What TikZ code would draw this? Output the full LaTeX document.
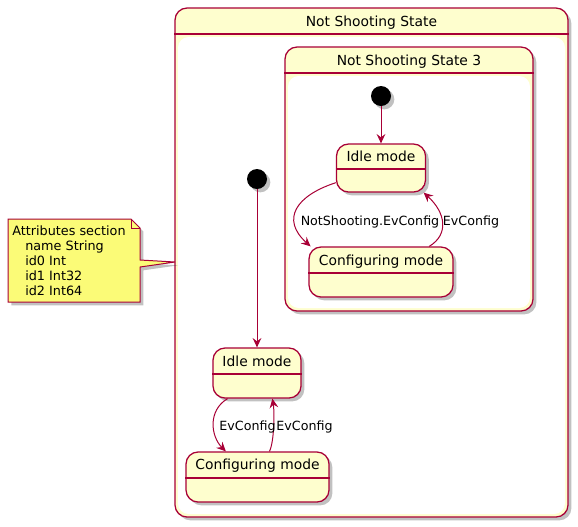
\documentclass[tikz,border=0pt]{standalone}
\usepackage{fontspec}
\setmainfont{DejaVu Sans}
\usetikzlibrary{arrows.meta,shadows,calc}
\definecolor{plborder}{HTML}{A80036}
\definecolor{plfill}{HTML}{FEFECE}
\definecolor{plnote}{HTML}{FBFB77}
\begin{document}
\begin{tikzpicture}[x=0.75pt,y=-0.75pt,
  shad/.style={drop shadow={shadow xshift=2.5pt,shadow yshift=-2.5pt,opacity=0.3,fill=black!80}},
  statebox/.style={draw=plborder,line width=0.95pt,fill=plfill,rounded corners=9pt,shad,inner sep=0pt},
  innerwhite/.style={fill=white,rounded corners=8pt},
  divider/.style={draw=plborder,line width=0.95pt},
  titletext/.style={font=\fontsize{10.4}{12}\selectfont,inner sep=0pt,anchor=base},
  lbl/.style={font=\fontsize{9.5}{11}\selectfont,inner sep=0pt,anchor=base},
  notetext/.style={font=\fontsize{9.6}{11.25}\selectfont,inner sep=0pt,align=left},
  initdot/.style={circle,fill=black,minimum size=15pt,inner sep=0pt,shad},
  trans/.style={draw=plborder,line width=0.75pt,-{Stealth[length=7pt,width=6.5pt,inset=2.5pt]}}
]
\useasboundingbox (0,0) rectangle (578,526);
% outer composite
\node[statebox,minimum width=294.75pt,minimum height=381.75pt] (outer) at (371.5,262.5) {};
\path[innerwhite] (178,37) rectangle (565,514);
\draw[divider] (outer.west |- 0,34) -- (outer.east |- 0,34);
\node[titletext] (outert) at (371.5,26) {Not Shooting State};
% inner composite
\node[statebox,minimum width=186pt,minimum height=198pt] (inner) at (409,179) {};
\path[innerwhite] (288,76) rectangle (530,308);
\draw[divider] (inner.west |- 0,73) -- (inner.east |- 0,73);
\node[titletext] (innert) at (409,65) {Not Shooting State 3};
% inner states
\node[initdot] (init3) at (381,96) {};
\node[statebox,minimum width=66.75pt,minimum height=36pt] (idle3) at (381,168) {};
\node[titletext] (idle3t) at ($(idle3.center)+(0,-7)$) {Idle mode};
\draw[divider] ([yshift=-0.75pt]idle3.west) -- ([yshift=-0.75pt]idle3.east);
\node[statebox,minimum width=108pt,minimum height=37.5pt] (config3) at (381,272) {};
\node[titletext] (config3t) at ($(config3.center)+(0,-7)$) {Configuring mode};
\draw[divider] ([yshift=-0.75pt]config3.west) -- ([yshift=-0.75pt]config3.east);
% outer states
\node[initdot] (initO) at (257,179) {};
\node[statebox,minimum width=66pt,minimum height=37.5pt] (idleO) at (257,373) {};
\node[titletext] (idleOt) at ($(idleO.center)+(0,-7)$) {Idle mode};
\draw[divider] ([yshift=-0.75pt]idleO.west) -- ([yshift=-0.75pt]idleO.east);
\node[statebox,minimum width=107.25pt,minimum height=37.5pt] (configO) at (257.5,477) {};
\node[titletext] (configOt) at ($(configO.center)+(0,-8)$) {Configuring mode};
\draw[divider] ([yshift=-0.75pt]configO.west) -- ([yshift=-0.75pt]configO.east);
% transitions inner
\draw[trans] (init3) -- (idle3.north);
\draw[trans] (idle3.198) .. controls +(-40,13) and +(-30,-27) .. (config3.160);
\draw[trans] (config3.28.5) .. controls +(20,-12) and +(22,20) .. (idle3.-30);
\node[lbl] (l1) at (370,225) {NotShooting.EvConfig};
\node[lbl] (l2) at (471,225) {EvConfig};
% transitions outer
\draw[trans] (initO) -- (idleO.north);
\draw[trans] (idleO.221) .. controls +(-20,12) and +(-15,-15) .. (configO.141);
\draw[trans] (configO.65) .. controls +(5,-10) and +(2,12) .. (idleO.-59);
\node[lbl] (l3) at (247.5,430) {EvConfig};
\node[lbl] (l4) at (304.5,430) {EvConfig};
% note
\path[draw=plborder,fill=plnote,line width=0.75pt,shad] (8,219) -- (131,219) -- (140,228) -- (140,260) -- (175,262) -- (140,267) -- (140,302) -- (8,302) -- cycle;
\draw[plborder,line width=0.75pt] (131,219) -- (131,228) -- (140,228);
\node[notetext,anchor=north west] (notet) at (12,225) {Attributes section\\\hspace*{9.75pt}name String\\\hspace*{9.75pt}id0 Int\\\hspace*{9.75pt}id1 Int32\\\hspace*{9.75pt}id2 Int64};
\end{tikzpicture}
\end{document}
